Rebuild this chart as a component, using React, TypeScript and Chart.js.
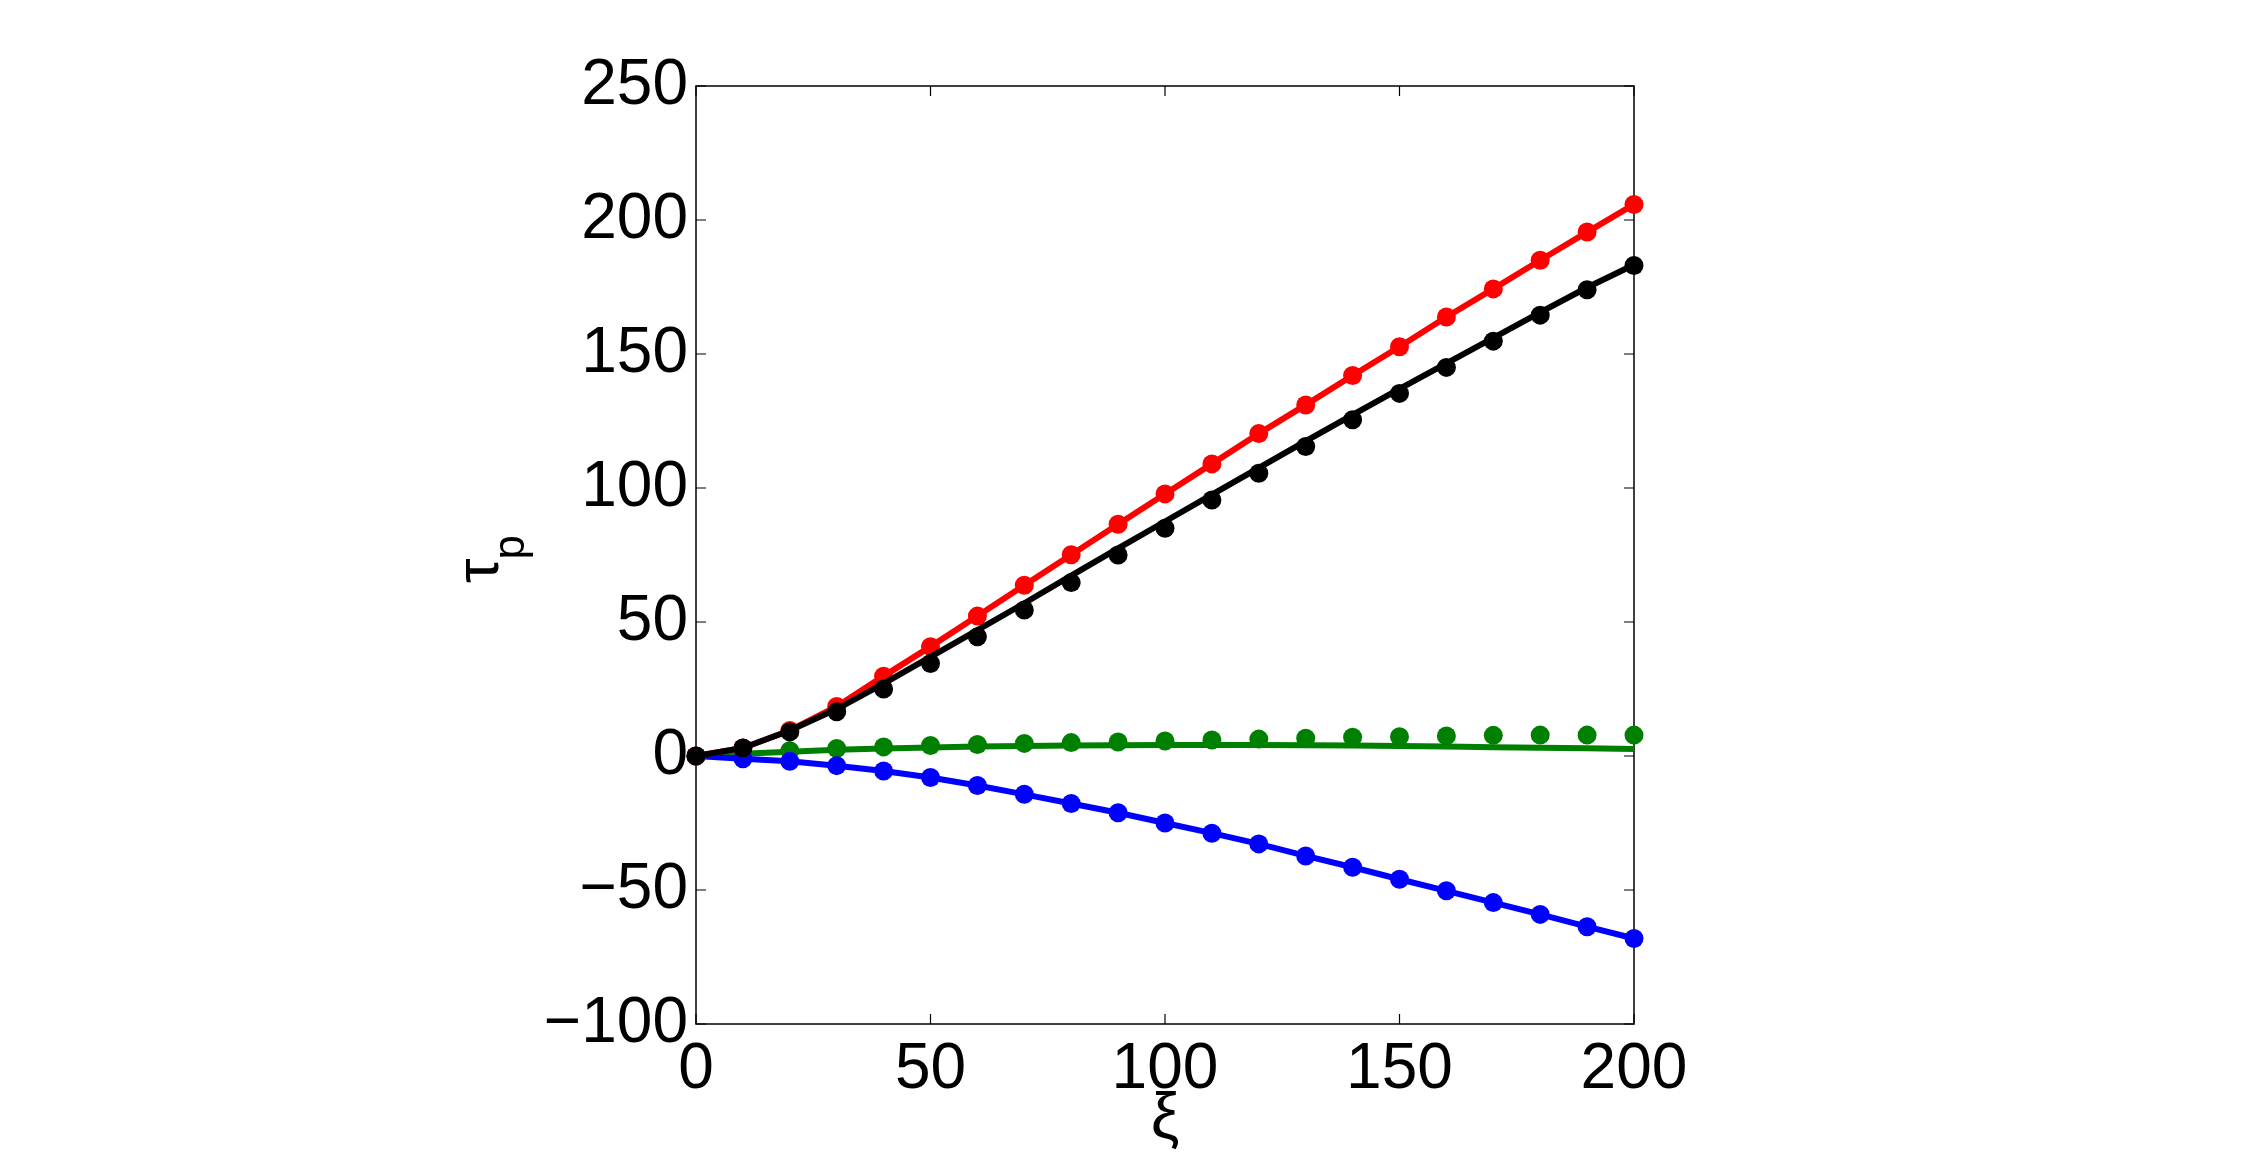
import React, { useEffect, useRef } from "react";
import { Chart, registerables } from "chart.js";

Chart.register(...registerables);

const xiValues = [0, 10, 20, 30, 40, 50, 60, 70, 80, 90, 100, 110, 120, 130, 140, 150, 160, 170, 180, 190, 200];

const redSeries = [0, 3, 9.5, 18.5, 29.8, 40.8, 52.2, 63.7, 75.1, 86.5, 97.8, 109, 120.3, 131, 142, 152.7, 163.8, 174.3, 185, 195.5, 205.8];
const blackLine = [0, 3, 9.5, 17.5, 27, 37, 47, 57, 67.3, 77.5, 87.5, 97.5, 107.5, 117.5, 127.3, 137, 146.5, 156, 165.5, 174.8, 183.3];
const blackMarkers = [0, 3, 9, 16.5, 25, 34.5, 44.5, 54.5, 64.7, 75, 85, 95.5, 105.5, 115.5, 125.5, 135.3, 145, 154.8, 164.5, 174, 183];
const greenLine = [0, 0.8, 1.6, 2.3, 2.8, 3.2, 3.5, 3.7, 3.9, 4.0, 4.1, 4.1, 4.1, 4.0, 3.9, 3.7, 3.5, 3.3, 3.1, 2.85, 2.6];
const greenMarkers = [0, 1.0, 2.0, 2.8, 3.4, 3.9, 4.3, 4.7, 5.0, 5.2, 5.6, 6.0, 6.3, 6.6, 7.0, 7.2, 7.5, 7.7, 7.8, 7.8, 7.8];
const blueSeries = [0, -1, -2, -3.6, -5.6, -8, -11, -14.3, -17.7, -21.2, -25, -28.8, -32.8, -37.3, -41.5, -46, -50.3, -54.7, -59.1, -63.7, -68.1];

const xTicks = [0, 50, 100, 150, 200];
const yTicks = [-100, -50, 0, 50, 100, 150, 200, 250];

const FONT = "'Liberation Sans', Arial, Helvetica, sans-serif";

const toPoints = (ys: number[]) => xiValues.map((x, i) => ({ x, y: ys[i] }));
const fmt = (v: number) => (v < 0 ? "\u2212" + Math.abs(v) : String(v));

const boxPlugin = {
  id: "matlabBox",
  beforeDatasetsDraw(chart: any) {
    const { ctx, chartArea, scales } = chart;
    const { left, right, top, bottom } = chartArea;
    ctx.save();
    ctx.strokeStyle = "#000";
    ctx.lineWidth = 1.5;
    ctx.strokeRect(left, top, right - left, bottom - top);
    ctx.lineWidth = 1.2;
    const tl = 10;
    ctx.beginPath();
    yTicks.forEach((v) => {
      const p = scales.y.getPixelForValue(v);
      ctx.moveTo(left, p);
      ctx.lineTo(left + tl, p);
      ctx.moveTo(right, p);
      ctx.lineTo(right - tl, p);
    });
    xTicks.forEach((v) => {
      const p = scales.x.getPixelForValue(v);
      ctx.moveTo(p, bottom);
      ctx.lineTo(p, bottom - tl);
      ctx.moveTo(p, top);
      ctx.lineTo(p, top + tl);
    });
    ctx.stroke();
    ctx.restore();
  },
  afterDraw(chart: any) {
    const { ctx, chartArea } = chart;
    ctx.save();
    ctx.fillStyle = "#000";
    // x label
    ctx.font = `64px ${FONT}`;
    ctx.textAlign = "center";
    ctx.textBaseline = "alphabetic";
    ctx.fillText("\u03BE", (chartArea.left + chartArea.right) / 2, 1138);
    // y label tau_p rotated
    ctx.translate(498, 583);
    ctx.rotate(-Math.PI / 2);
    ctx.textAlign = "left";
    ctx.font = `62px ${FONT}`;
    ctx.fillText("\u03C4", 0, 0);
    const w = ctx.measureText("\u03C4").width;
    ctx.font = `44px ${FONT}`;
    ctx.fillText("p", w - 1, 26);
    ctx.restore();
  },
};

export default function App() {
  const ref = useRef<HTMLCanvasElement | null>(null);
  useEffect(() => {
    if (!ref.current) return;
    const chart = new Chart(ref.current, {
      type: "line",
      data: {
        datasets: [
          {
            label: "black markers",
            data: toPoints(blackMarkers),
            showLine: false,
            pointRadius: 9.5,
            pointBorderWidth: 0,
            pointBackgroundColor: "#000000",
            borderColor: "#000000",
            order: 1,
            clip: false as any,
          },
          {
            label: "black line",
            data: toPoints(blackLine),
            borderColor: "#000000",
            borderWidth: 6,
            pointRadius: 0,
            order: 2,
            clip: false as any,
          },
          {
            label: "red",
            data: toPoints(redSeries),
            borderColor: "#ff0000",
            borderWidth: 6,
            pointRadius: 9.5,
            pointBorderWidth: 0,
            pointBackgroundColor: "#ff0000",
            order: 3,
            clip: false as any,
          },
          {
            label: "blue",
            data: toPoints(blueSeries),
            borderColor: "#0000ff",
            borderWidth: 6,
            pointRadius: 9.5,
            pointBorderWidth: 0,
            pointBackgroundColor: "#0000ff",
            order: 4,
            clip: false as any,
          },
          {
            label: "green markers",
            data: toPoints(greenMarkers),
            showLine: false,
            pointRadius: 9.5,
            pointBorderWidth: 0,
            pointBackgroundColor: "#008000",
            borderColor: "#008000",
            order: 5,
            clip: false as any,
          },
          {
            label: "green line",
            data: toPoints(greenLine),
            borderColor: "#008000",
            borderWidth: 6,
            pointRadius: 0,
            order: 6,
            clip: false as any,
          },
        ],
      },
      options: {
        responsive: false,
        animation: false,
        devicePixelRatio: 1,
        layout: { padding: { left: 0, right: 616, top: 86, bottom: 0 } },
        plugins: { legend: { display: false }, tooltip: { enabled: false } },
        scales: {
          x: {
            type: "linear",
            min: 0,
            max: 200,
            grid: { display: false, drawTicks: false },
            border: { display: false },
            afterBuildTicks: (scale: any) => {
              scale.ticks = xTicks.map((v) => ({ value: v }));
            },
            afterFit: (scale: any) => {
              scale.height = 137;
            },
            ticks: {
              padding: 8,
              color: "#000",
              maxRotation: 0,
              font: { family: FONT, size: 64 },
              callback: (v: any) => fmt(Number(v)),
            },
          },
          y: {
            type: "linear",
            min: -100,
            max: 250,
            grid: { display: false, drawTicks: false },
            border: { display: false },
            afterBuildTicks: (scale: any) => {
              scale.ticks = yTicks.map((v) => ({ value: v }));
            },
            afterFit: (scale: any) => {
              scale.width = 696;
            },
            ticks: {
              padding: 8,
              color: "#000",
              font: { family: FONT, size: 64 },
              callback: (v: any) => fmt(Number(v)),
            },
          },
        },
      },
      plugins: [boxPlugin],
    });
    return () => chart.destroy();
  }, []);
  return (
    <div style={{ position: "fixed", left: 0, top: 0, width: 2250, height: 1161, background: "#fff" }}>
      <canvas ref={ref} width={2250} height={1161} style={{ width: 2250, height: 1161, display: "block" }} />
    </div>
  );
}
